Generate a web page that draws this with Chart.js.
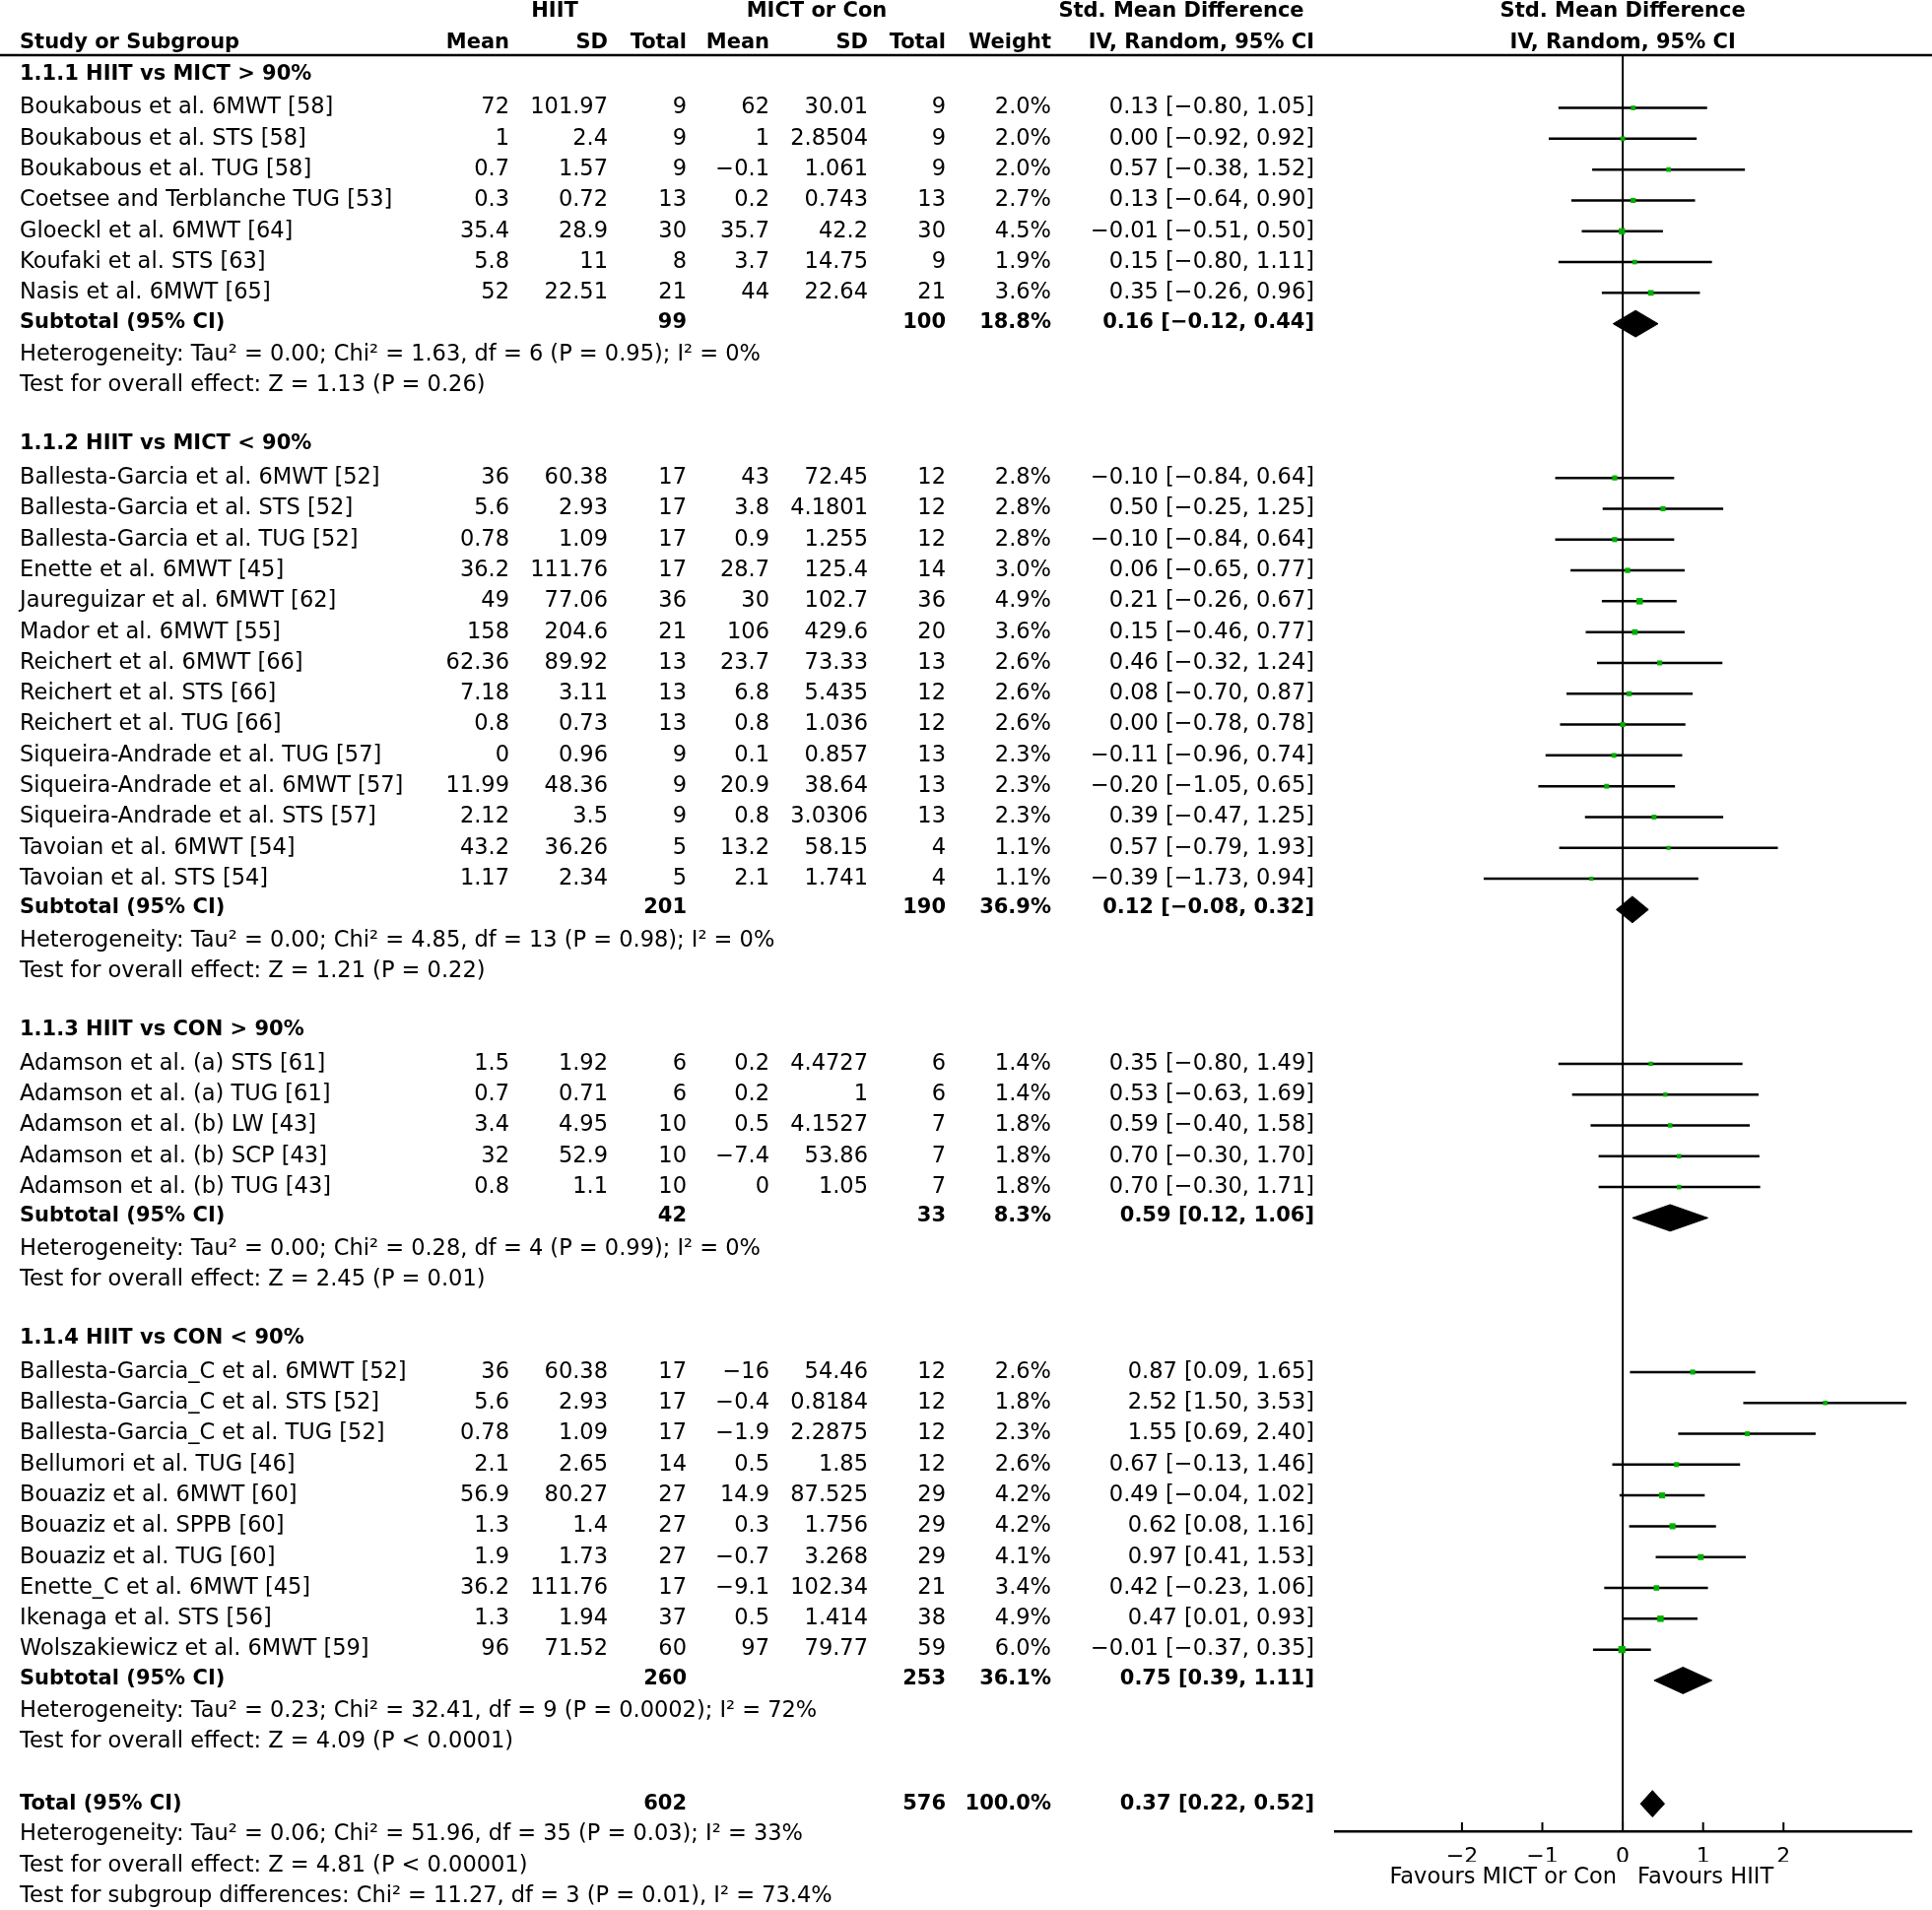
<!DOCTYPE html>
<html>
<head>
<meta charset="utf-8">
<script src="https://cdn.jsdelivr.net/npm/chart.js@4.4.0/dist/chart.umd.min.js"></script>
<style>
  html, body { margin: 0; padding: 0; background: #fff; }
  #wrap { width: 1961px; height: 1939px; }
</style>
</head>
<body>
<div id="wrap"><canvas id="forest" width="1961" height="1939"></canvas></div>
<script>
// ---- data ----
const groupTitles = [
  '1.1.1 HIIT vs MICT > 90%',
  '1.1.2 HIIT vs MICT < 90%',
  '1.1.3 HIIT vs CON > 90%',
  '1.1.4 HIIT vs CON < 90%'
];

const studyNames = [
  'Boukabous et al. 6MWT [58]', 'Boukabous et al. STS [58]', 'Boukabous et al. TUG [58]',
  'Coetsee and Terblanche TUG [53]', 'Gloeckl et al. 6MWT [64]', 'Koufaki et al. STS [63]',
  'Nasis et al. 6MWT [65]',
  'Ballesta-Garcia et al. 6MWT [52]', 'Ballesta-Garcia et al. STS [52]', 'Ballesta-Garcia et al. TUG [52]',
  'Enette et al. 6MWT [45]', 'Jaureguizar et al. 6MWT [62]', 'Mador et al. 6MWT [55]',
  'Reichert et al. 6MWT [66]', 'Reichert et al. STS [66]', 'Reichert et al. TUG [66]',
  'Siqueira-Andrade et al. TUG [57]', 'Siqueira-Andrade et al. 6MWT [57]', 'Siqueira-Andrade et al. STS [57]',
  'Tavoian et al. 6MWT [54]', 'Tavoian et al. STS [54]',
  'Adamson et al. (a) STS [61]', 'Adamson et al. (a) TUG [61]', 'Adamson et al. (b) LW [43]',
  'Adamson et al. (b) SCP [43]', 'Adamson et al. (b) TUG [43]',
  'Ballesta-Garcia_C et al. 6MWT [52]', 'Ballesta-Garcia_C et al. STS [52]', 'Ballesta-Garcia_C et al. TUG [52]',
  'Bellumori et al. TUG [46]', 'Bouaziz et al. 6MWT [60]', 'Bouaziz et al. SPPB [60]',
  'Bouaziz et al. TUG [60]', 'Enette_C et al. 6MWT [45]', 'Ikenaga et al. STS [56]',
  'Wolszakiewicz et al. 6MWT [59]'
];
const studyGroup = [0,0,0,0,0,0,0, 1,1,1,1,1,1,1,1,1,1,1,1,1,1, 2,2,2,2,2, 3,3,3,3,3,3,3,3,3,3];

const hiitMean  = [72, 1, 0.7, 0.3, 35.4, 5.8, 52,
  36, 5.6, 0.78, 36.2, 49, 158, 62.36, 7.18, 0.8, 0, 11.99, 2.12, 43.2, 1.17,
  1.5, 0.7, 3.4, 32, 0.8,
  36, 5.6, 0.78, 2.1, 56.9, 1.3, 1.9, 36.2, 1.3, 96];
const hiitSD    = [101.97, 2.4, 1.57, 0.72, 28.9, 11, 22.51,
  60.38, 2.93, 1.09, 111.76, 77.06, 204.6, 89.92, 3.11, 0.73, 0.96, 48.36, 3.5, 36.26, 2.34,
  1.92, 0.71, 4.95, 52.9, 1.1,
  60.38, 2.93, 1.09, 2.65, 80.27, 1.4, 1.73, 111.76, 1.94, 71.52];
const hiitTotal = [9, 9, 9, 13, 30, 8, 21,
  17, 17, 17, 17, 36, 21, 13, 13, 13, 9, 9, 9, 5, 5,
  6, 6, 10, 10, 10,
  17, 17, 17, 14, 27, 27, 27, 17, 37, 60];
const conMean   = [62, 1, -0.1, 0.2, 35.7, 3.7, 44,
  43, 3.8, 0.9, 28.7, 30, 106, 23.7, 6.8, 0.8, 0.1, 20.9, 0.8, 13.2, 2.1,
  0.2, 0.2, 0.5, -7.4, 0,
  -16, -0.4, -1.9, 0.5, 14.9, 0.3, -0.7, -9.1, 0.5, 97];
const conSD     = [30.01, 2.8504, 1.061, 0.743, 42.2, 14.75, 22.64,
  72.45, 4.1801, 1.255, 125.4, 102.7, 429.6, 73.33, 5.435, 1.036, 0.857, 38.64, 3.0306, 58.15, 1.741,
  4.4727, 1, 4.1527, 53.86, 1.05,
  54.46, 0.8184, 2.2875, 1.85, 87.525, 1.756, 3.268, 102.34, 1.414, 79.77];
const conTotal  = [9, 9, 9, 13, 30, 9, 21,
  12, 12, 12, 14, 36, 20, 13, 12, 12, 13, 13, 13, 4, 4,
  6, 6, 7, 7, 7,
  12, 12, 12, 12, 29, 29, 29, 21, 38, 59];
const weightPct = [2.0, 2.0, 2.0, 2.7, 4.5, 1.9, 3.6,
  2.8, 2.8, 2.8, 3.0, 4.9, 3.6, 2.6, 2.6, 2.6, 2.3, 2.3, 2.3, 1.1, 1.1,
  1.4, 1.4, 1.8, 1.8, 1.8,
  2.6, 1.8, 2.3, 2.6, 4.2, 4.2, 4.1, 3.4, 4.9, 6.0];
const smd    = [0.13, 0.00, 0.57, 0.13, -0.01, 0.15, 0.35,
  -0.10, 0.50, -0.10, 0.06, 0.21, 0.15, 0.46, 0.08, 0.00, -0.11, -0.20, 0.39, 0.57, -0.39,
  0.35, 0.53, 0.59, 0.70, 0.70,
  0.87, 2.52, 1.55, 0.67, 0.49, 0.62, 0.97, 0.42, 0.47, -0.01];
const ciLow  = [-0.80, -0.92, -0.38, -0.64, -0.51, -0.80, -0.26,
  -0.84, -0.25, -0.84, -0.65, -0.26, -0.46, -0.32, -0.70, -0.78, -0.96, -1.05, -0.47, -0.79, -1.73,
  -0.80, -0.63, -0.40, -0.30, -0.30,
  0.09, 1.50, 0.69, -0.13, -0.04, 0.08, 0.41, -0.23, 0.01, -0.37];
const ciHigh = [1.05, 0.92, 1.52, 0.90, 0.50, 1.11, 0.96,
  0.64, 1.25, 0.64, 0.77, 0.67, 0.77, 1.24, 0.87, 0.78, 0.74, 0.65, 1.25, 1.93, 0.94,
  1.49, 1.69, 1.58, 1.70, 1.71,
  1.65, 3.53, 2.40, 1.46, 1.02, 1.16, 1.53, 1.06, 0.93, 0.35];

const subtotalHiit   = [99, 201, 42, 260];
const subtotalCon    = [100, 190, 33, 253];
const subtotalWeight = [18.8, 36.9, 8.3, 36.1];
const subtotalSmd    = [0.16, 0.12, 0.59, 0.75];
const subtotalLow    = [-0.12, -0.08, 0.12, 0.39];
const subtotalHigh   = [0.44, 0.32, 1.06, 1.11];
const heterogeneityText = [
  'Heterogeneity: Tau² = 0.00; Chi² = 1.63, df = 6 (P = 0.95); I² = 0%',
  'Heterogeneity: Tau² = 0.00; Chi² = 4.85, df = 13 (P = 0.98); I² = 0%',
  'Heterogeneity: Tau² = 0.00; Chi² = 0.28, df = 4 (P = 0.99); I² = 0%',
  'Heterogeneity: Tau² = 0.23; Chi² = 32.41, df = 9 (P = 0.0002); I² = 72%'
];
const overallEffectText = [
  'Test for overall effect: Z = 1.13 (P = 0.26)',
  'Test for overall effect: Z = 1.21 (P = 0.22)',
  'Test for overall effect: Z = 2.45 (P = 0.01)',
  'Test for overall effect: Z = 4.09 (P < 0.0001)'
];

const totalHiit = 602, totalCon = 576, totalWeight = 100.0;
const totalSmd = 0.37, totalLow = 0.22, totalHigh = 0.52;
const totalNotes = [
  'Heterogeneity: Tau² = 0.06; Chi² = 51.96, df = 35 (P = 0.03); I² = 33%',
  'Test for overall effect: Z = 4.81 (P < 0.00001)',
  'Test for subgroup differences: Chi² = 11.27, df = 3 (P = 0.01), I² = 73.4%'
];

const xTicks = [-2, -1, 0, 1, 2];
const favoursLabels = ['Favours MICT or Con', 'Favours HIIT'];

// ---- row layout (one unit = one table row) ----
const rows = [];
const studyRow = [];
const subtotalRow = [];
let r = 0;
groupTitles.forEach((title, g) => {
  rows.push({ kind: 'group', row: r++, text: title });
  studyNames.forEach((name, i) => {
    if (studyGroup[i] === g) { studyRow[i] = r; rows.push({ kind: 'study', row: r++, i }); }
  });
  subtotalRow[g] = r;
  rows.push({ kind: 'subtotal', row: r++, g });
  rows.push({ kind: 'note', row: r++, text: heterogeneityText[g] });
  rows.push({ kind: 'note', row: r++, text: overallEffectText[g] });
  r++;
});
const totalRow = r;
rows.push({ kind: 'total', row: r++ });
totalNotes.forEach(t => rows.push({ kind: 'note', row: r++, text: t }));

// ---- datasets ----
const ciData = [];
studyNames.forEach((n, i) => {
  ciData.push({ x: ciLow[i], y: studyRow[i] });
  ciData.push({ x: ciHigh[i], y: studyRow[i] });
  ciData.push({ x: null, y: null });
});
const pointData = studyNames.map((n, i) => ({ x: smd[i], y: studyRow[i] }));
const pointSize = weightPct.map(w => 2.4 + 0.45 * w);

const DH = 0.43; // half height of a diamond, in rows
function diamond(est, lo, hi, row, h) {
  return [
    { x: lo, y: row }, { x: est, y: row - h }, { x: hi, y: row },
    { x: est, y: row + h }, { x: lo, y: row }
  ];
}
const diamondSets = subtotalSmd.map((e, g) => ({
  type: 'line',
  data: diamond(e, subtotalLow[g], subtotalHigh[g], subtotalRow[g], DH),
  borderColor: '#000', backgroundColor: '#000', borderWidth: 1,
  fill: 'shape', pointRadius: 0, tension: 0, order: 1
}));
diamondSets.push({
  type: 'line',
  data: diamond(totalSmd, totalLow, totalHigh, totalRow, DH),
  borderColor: '#000', backgroundColor: '#000', borderWidth: 1,
  fill: 'shape', pointRadius: 0, tension: 0, order: 1
});

// ---- text table ----
const FONT = '"DejaVu Sans", sans-serif';
const SIZE = 22.5;
const BOLD_SIZE = 21;
const col = { name: 20, hMean: 517, hSD: 617, hN: 697, cMean: 781, cSD: 881, cN: 960, weight: 1067, ci: 1334 };

function fmt(v) { return String(v).replace('-', '\u2212'); }
function ciText(e, lo, hi) {
  return fmt(e.toFixed(2)) + ' [' + fmt(lo.toFixed(2)) + ', ' + fmt(hi.toFixed(2)) + ']';
}

const tablePlugin = {
  id: 'forestTable',
  beforeDatasetsDraw(chart) {
    const { ctx, chartArea } = chart;
    const x0 = chart.scales.x.getPixelForValue(0);
    ctx.save();
    ctx.strokeStyle = '#000';
    ctx.lineWidth = 2;
    ctx.beginPath();
    ctx.moveTo(x0, chartArea.top);
    ctx.lineTo(x0, chartArea.bottom);
    ctx.stroke();
    ctx.restore();
  },
  afterDraw(chart) {
    const { ctx, chartArea } = chart;
    const xs = chart.scales.x, ys = chart.scales.y;
    const x0 = xs.getPixelForValue(0);
    const Y = v => ys.getPixelForValue(v);
    ctx.save();
    ctx.fillStyle = '#000';
    ctx.textBaseline = 'middle';
    const txt = (s, x, y, align, bold) => {
      ctx.font = bold ? 'bold ' + BOLD_SIZE + 'px ' + FONT : SIZE + 'px ' + FONT;
      ctx.textAlign = align;
      ctx.fillText(s, x, y);
    };

    // header line
    ctx.strokeStyle = '#000';
    ctx.lineWidth = 2.5;
    ctx.beginPath();
    ctx.moveTo(0, chartArea.top);
    ctx.lineTo(chart.width, chartArea.top);
    ctx.stroke();

    // tick marks pointing up from the axis
    ctx.lineWidth = 2;
    xTicks.forEach(v => {
      const x = xs.getPixelForValue(v);
      ctx.beginPath();
      ctx.moveTo(x, chartArea.bottom - 9);
      ctx.lineTo(x, chartArea.bottom);
      ctx.stroke();
    });

    // column headers
    const h1 = Y(-2.12), h2 = Y(-1.12);
    txt('HIIT', 563, h1, 'center', true);
    txt('MICT or Con', 829, h1, 'center', true);
    txt('Std. Mean Difference', 1199, h1, 'center', true);
    txt('Std. Mean Difference', x0, h1, 'center', true);
    txt('Study or Subgroup', col.name, h2, 'left', true);
    txt('Mean', col.hMean, h2, 'right', true);
    txt('SD', col.hSD, h2, 'right', true);
    txt('Total', col.hN, h2, 'right', true);
    txt('Mean', col.cMean, h2, 'right', true);
    txt('SD', col.cSD, h2, 'right', true);
    txt('Total', col.cN, h2, 'right', true);
    txt('Weight', col.weight, h2, 'right', true);
    txt('IV, Random, 95% CI', col.ci, h2, 'right', true);
    txt('IV, Random, 95% CI', x0, h2, 'center', true);

    rows.forEach(row => {
      const y = Y(row.row);
      if (row.kind === 'group') {
        txt(row.text, col.name, Y(row.row - 0.1), 'left', true);
      } else if (row.kind === 'study') {
        const i = row.i;
        txt(studyNames[i], col.name, y, 'left', false);
        txt(fmt(hiitMean[i]), col.hMean, y, 'right', false);
        txt(fmt(hiitSD[i]), col.hSD, y, 'right', false);
        txt(String(hiitTotal[i]), col.hN, y, 'right', false);
        txt(fmt(conMean[i]), col.cMean, y, 'right', false);
        txt(fmt(conSD[i]), col.cSD, y, 'right', false);
        txt(String(conTotal[i]), col.cN, y, 'right', false);
        txt(weightPct[i].toFixed(1) + '%', col.weight, y, 'right', false);
        txt(ciText(smd[i], ciLow[i], ciHigh[i]), col.ci, y, 'right', false);
      } else if (row.kind === 'subtotal') {
        const g = row.g;
        const yb = Y(row.row - 0.05);
        txt('Subtotal (95% CI)', col.name, yb, 'left', true);
        txt(String(subtotalHiit[g]), col.hN, yb, 'right', true);
        txt(String(subtotalCon[g]), col.cN, yb, 'right', true);
        txt(subtotalWeight[g].toFixed(1) + '%', col.weight, yb, 'right', true);
        txt(ciText(subtotalSmd[g], subtotalLow[g], subtotalHigh[g]), col.ci, yb, 'right', true);
      } else if (row.kind === 'total') {
        txt('Total (95% CI)', col.name, y, 'left', true);
        txt(String(totalHiit), col.hN, y, 'right', true);
        txt(String(totalCon), col.cN, y, 'right', true);
        txt(totalWeight.toFixed(1) + '%', col.weight, y, 'right', true);
        txt(ciText(totalSmd, totalLow, totalHigh), col.ci, y, 'right', true);
      } else {
        txt(row.text, col.name, y, 'left', false);
      }
    });

    // favours labels under the axis
    const fy = chartArea.bottom + 47;
    txt(favoursLabels[0], x0 - 6, fy, 'right', false);
    txt(favoursLabels[1], x0 + 15, fy, 'left', false);
    ctx.restore();
  }
};

new Chart(document.getElementById('forest'), {
  type: 'scatter',
  data: {
    datasets: [
      {
        type: 'line', data: ciData, borderColor: '#000', borderWidth: 2.5,
        pointRadius: 0, spanGaps: false, tension: 0, order: 2
      },
      ...diamondSets,
      {
        type: 'scatter', data: pointData, pointStyle: 'rect',
        pointRadius: pointSize, backgroundColor: '#00b000', borderWidth: 0, order: 0
      }
    ]
  },
  options: {
    responsive: false,
    devicePixelRatio: 1,
    animation: false,
    events: [],
    layout: { padding: { left: 1355, right: 21, top: 56, bottom: 49 } },
    plugins: { legend: { display: false }, tooltip: { enabled: false } },
    scales: {
      x: {
        type: 'linear', min: -3.58, max: 3.59,
        grid: { display: false },
        border: { display: true, color: '#000', width: 2.5 },
        afterBuildTicks: s => { s.ticks = xTicks.map(v => ({ value: v })); },
        afterFit: s => { s.height = 31; },
        ticks: {
          color: '#000', padding: 5,
          font: { family: FONT, size: 22 },
          callback: v => fmt(v)
        }
      },
      y: {
        type: 'linear', reverse: true, min: -0.71, max: 56.89,
        display: false
      }
    }
  },
  plugins: [tablePlugin]
});
</script>
</body>
</html>
